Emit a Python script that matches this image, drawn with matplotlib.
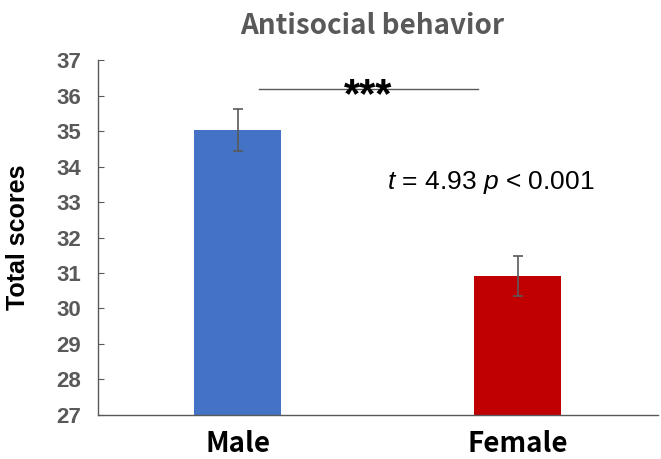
import matplotlib
matplotlib.use('Agg')
import matplotlib.pyplot as plt

groups = ['Male', 'Female']
means = [35.03, 30.92]
errors = [0.60, 0.57]
colors = ['#4472C4', '#C00000']
yticks = list(range(27, 38))

plt.rcParams['font.family'] = 'Liberation Sans'
plt.rcParams['mathtext.fontset'] = 'custom'
plt.rcParams['mathtext.it'] = 'Liberation Sans:italic'
plt.rcParams['mathtext.rm'] = 'Liberation Sans'

fig = plt.figure(figsize=(6.61, 4.59), dpi=100)
ax = fig.add_axes([0.148, 0.096, 0.847, 0.773])

x = range(len(groups))
ax.bar(x, [m - 27 for m in means], bottom=27, width=0.31, color=colors, zorder=2)
ax.errorbar(x, means, yerr=errors, fmt='none', ecolor='#595959', elinewidth=1.2,
            capsize=3.5, capthick=1.2, zorder=3)

ax.set_xlim(-0.5, 1.5)
ax.set_ylim(27, 37)
ax.set_yticks(yticks)
ax.set_xticks(list(x))
ax.set_xticklabels(groups, fontsize=20, fontweight='bold', color='black',
                   family='Noto Sans CJK SC')
for lbl in ax.get_yticklabels():
    lbl.set_fontsize(16)
    lbl.set_fontweight('bold')
    lbl.set_color('#595959')
ax.tick_params(axis='y', direction='in', length=4, color='#595959', pad=12)
ax.tick_params(axis='x', length=0, pad=11)

for s in ['top', 'right']:
    ax.spines[s].set_visible(False)
for s in ['left', 'bottom']:
    ax.spines[s].set_color('#595959')
    ax.spines[s].set_linewidth(1)

ax.set_ylabel('Total scores', fontsize=18, fontweight='bold', labelpad=19)
ax.set_title('Antisocial behavior', fontsize=20, fontweight='bold', color='#595959',
             pad=19, family='Noto Sans CJK SC', x=0.49)

# significance bracket
ax.plot([0.075, 0.857], [36.18, 36.18], color='#595959', lw=1, zorder=2)
ax.text(0.465, 36.0, '***', ha='center', va='center', fontsize=30, fontweight='bold')
ax.text(0.905, 33.56, '$t$ = 4.93 $p$ < 0.001', ha='center', va='center', fontsize=19)

fig.savefig('out.png', dpi=100)
